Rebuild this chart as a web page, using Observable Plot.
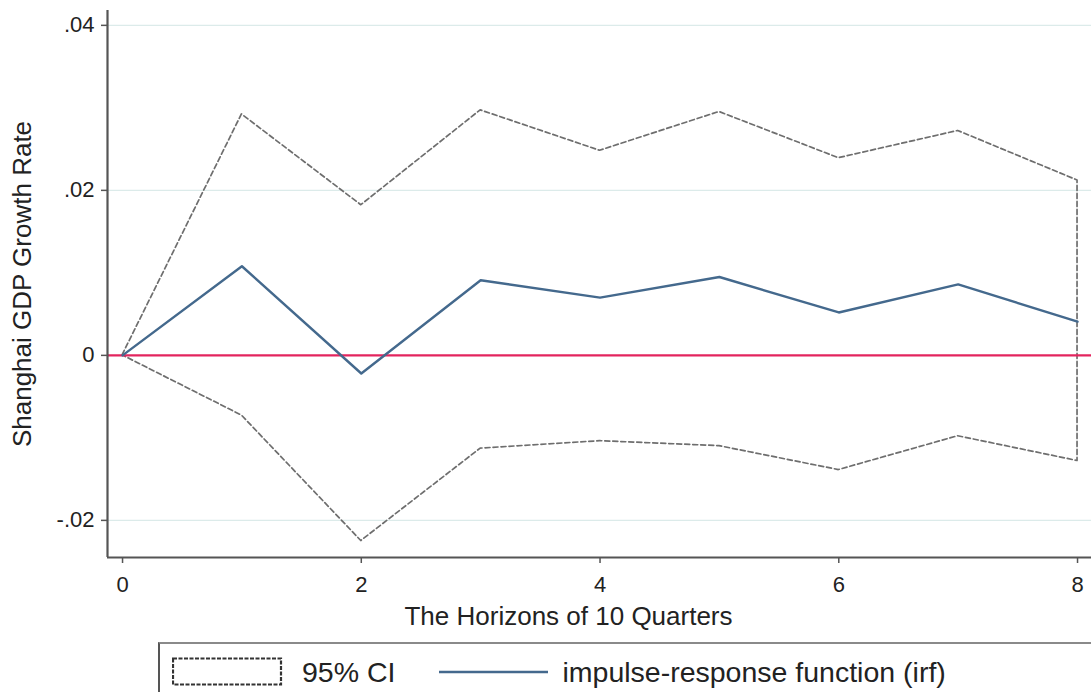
<!DOCTYPE html>
<html>
<head>
<meta charset="utf-8">
<script src="https://cdn.jsdelivr.net/npm/d3@7"></script>
<script src="https://cdn.jsdelivr.net/npm/@observablehq/plot@0.6"></script>
<style>
  html, body { margin: 0; padding: 0; background: #fff; overflow: hidden; }
  body { width: 1091px; height: 692px; position: relative; font-family: "Liberation Sans", Arial, sans-serif; }
  #chart { position: absolute; left: 0; top: 0; }
  #legend {
    position: absolute; left: 158px; top: 642px; width: 1000px; height: 60px;
    border: 2px solid #555; border-top-color: #8a8a8a; box-sizing: border-box;
    display: flex; align-items: center; font-size: 28.5px; color: #222;
  }
  #legend svg { display: block; }
</style>
</head>
<body>
<div id="chart"></div>
<div id="legend"></div>
<script>
// Horizon (quarters ahead)
const horizon = [0, 1, 2, 3, 4, 5, 6, 7, 8];
// Impulse-response of Shanghai GDP growth rate
const irf   = [0, 0.0108, -0.0022, 0.0091, 0.0070, 0.0095, 0.0052, 0.0086, 0.0041];
// 95% confidence band
const upper = [0, 0.0292, 0.0182, 0.0297, 0.0248, 0.0295, 0.0239, 0.0272, 0.0212];
const lower = [0, -0.0073, -0.0225, -0.0113, -0.0104, -0.0110, -0.0139, -0.0098, -0.0128];

const xTicks = [0, 2, 4, 6, 8];
const yTicks = [-0.02, 0, 0.02, 0.04];
const yTickLabels = ["-.02", "0", ".02", ".04"];
const xTitle = "The Horizons of 10 Quarters";
const yTitle = "Shanghai GDP Growth Rate";
const legendLabels = ["95% CI", "impulse-response function (irf)"];

const rows = horizon.map((h, i) => ({h, irf: irf[i], hi: upper[i], lo: lower[i]}));

const xDomain = [-0.126, 8.117];
const yDomain = [-0.0245, 0.0418];
const axisColor = "#555";
const font = "Liberation Sans, Arial, sans-serif";

const chart = Plot.plot({
  width: 1091,
  height: 640,
  marginLeft: 107,
  marginRight: 0,
  marginTop: 10,
  marginBottom: 83,
  style: {fontFamily: font, color: "#222", background: "#fff"},
  x: {domain: xDomain},
  y: {domain: yDomain},
  marks: [
    Plot.gridY(yTicks.filter(d => d !== 0), {stroke: "#dcebea", strokeOpacity: 1, strokeWidth: 1.2}),
    // CI band outline (closed polygon, unfilled)
    Plot.areaY(rows, {x: "h", y1: "lo", y2: "hi", fill: "none", stroke: "#6e6e6e",
                      strokeWidth: 1.7, strokeDasharray: "5,3"}),
    Plot.ruleY([0], {stroke: "#e3245e", strokeWidth: 2.2}),
    Plot.lineY(rows, {x: "h", y: "irf", stroke: "#44698d", strokeWidth: 2.4}),
    // axis lines
    Plot.ruleX([xDomain[0]], {stroke: axisColor, strokeWidth: 2.2}),
    Plot.ruleY([yDomain[0]], {stroke: axisColor, strokeWidth: 2.2}),
    Plot.axisY({ticks: yTicks, tickFormat: d => yTickLabels[yTicks.indexOf(d)],
                tickSize: 6, tickPadding: 7, fontSize: 22, stroke: axisColor, strokeWidth: 1.5,
                label: null}),
    Plot.axisX({ticks: xTicks, tickFormat: d => String(d), tickSize: 6, tickPadding: 13,
                fontSize: 22, stroke: axisColor, strokeWidth: 1.5, label: null}),
    Plot.text([yTitle], {frameAnchor: "left", rotate: -90, dx: -85, fontSize: 26, textAnchor: "middle"}),
    Plot.text([xTitle], {frameAnchor: "bottom", dx: -31, dy: 67, fontSize: 26, textAnchor: "middle"})
  ]
});
document.getElementById("chart").appendChild(chart);

// Legend below the plot
const legend = d3.select("#legend");
const sym1 = legend.append("svg").attr("width", 112).attr("height", 30).style("margin-left", "12px");
sym1.append("rect").attr("x", 1).attr("y", 1.5).attr("width", 108).attr("height", 26)
  .attr("fill", "#fff").attr("stroke", "#333").attr("stroke-width", 2.2).attr("stroke-dasharray", "4,1.5");
legend.append("span").text(legendLabels[0]).style("margin-left", "18px");
const sym2 = legend.append("svg").attr("width", 110).attr("height", 30).style("margin-left", "44px");
sym2.append("line").attr("x1", 0).attr("x2", 109).attr("y1", 15).attr("y2", 15)
  .attr("stroke", "#44698d").attr("stroke-width", 2.5);
legend.append("span").text(legendLabels[1]).style("margin-left", "13px");
</script>
</body>
</html>
